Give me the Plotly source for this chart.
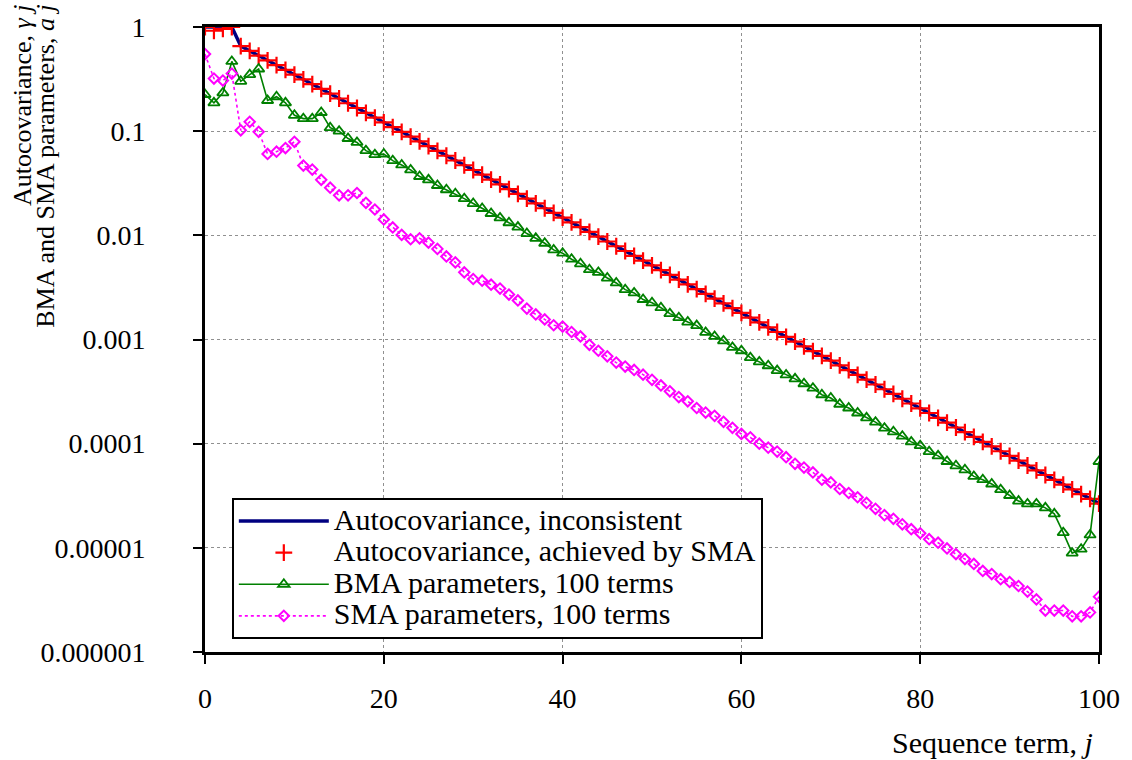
import plotly.graph_objects as go

j_terms = list(range(101))

autocov_inconsistent = [
    1.0, 1.0, 1.0, 1.0, 0.6561, 0.5905, 0.5314, 0.4783, 0.4305, 0.3874,
    0.3487, 0.3138, 0.2824, 0.2542, 0.2288, 0.2059, 0.1853, 0.1668, 0.1501, 0.1351,
    0.1216, 0.1094, 0.0985, 0.0886, 0.0798, 0.0718, 0.0646, 0.0581, 0.0523, 0.0471,
    0.0424, 0.0382, 0.0343, 0.0309, 0.0278, 0.0250, 0.0225, 0.0203, 0.0182, 0.0164,
    0.0148, 0.0133, 0.0120, 0.0108, 0.00970, 0.00873, 0.00786, 0.00707, 0.00636, 0.00573,
    0.00515, 0.00464, 0.00417, 0.00376, 0.00338, 0.00304, 0.00274, 0.00247, 0.00222, 0.00200,
    0.00180, 0.00162, 0.00146, 0.00131, 0.00118, 0.00106, 0.000955, 0.000860, 0.000774, 0.000696,
    0.000627, 0.000564, 0.000508, 0.000457, 0.000411, 0.000370, 0.000333, 0.000300, 0.000270, 0.000243,
    0.000218, 0.000197, 0.000177, 0.000159, 0.000143, 0.000129, 0.000116, 0.000104, 0.0000940, 0.0000846,
    0.0000762, 0.0000686, 0.0000617, 0.0000555, 0.0000500, 0.0000450, 0.0000405, 0.0000364, 0.0000328, 0.0000295,
    0.0000266,
]

autocov_achieved_head = [1.0, 0.92, 0.96, 1.0]
autocov_achieved = autocov_achieved_head + autocov_inconsistent[4:]

bma_params = [
    0.225, 0.187, 0.233, 0.467, 0.301, 0.349, 0.395, 0.197, 0.214, 0.187,
    0.142, 0.132, 0.132, 0.151, 0.108, 0.100, 0.085, 0.078, 0.065, 0.0595,
    0.0604, 0.0521, 0.0474, 0.0425, 0.0367, 0.0341, 0.0301, 0.0274, 0.0251, 0.0225,
    0.0202, 0.0181, 0.0162, 0.0147, 0.0132, 0.0120, 0.0104, 0.00936, 0.00839, 0.00725,
    0.00674, 0.0059, 0.00533, 0.00468, 0.00441, 0.00389, 0.00349, 0.00301, 0.0028, 0.00242,
    0.00225, 0.00202, 0.00177, 0.00162, 0.00147, 0.00136, 0.00117, 0.00107, 0.00097, 0.00084,
    0.00078, 0.00067, 0.00061, 0.00056, 0.000503, 0.000457, 0.000419, 0.000376, 0.000341, 0.000295,
    0.000274, 0.000239, 0.00022, 0.000197, 0.000177, 0.000161, 0.000141, 0.00013, 0.000118, 0.000104,
    0.0000957, 0.0000839, 0.0000764, 0.0000674, 0.0000613, 0.0000561, 0.0000485, 0.0000451, 0.000041, 0.0000362,
    0.0000318, 0.0000281, 0.0000264, 0.0000264, 0.0000242, 0.0000212, 0.000014, 0.0000089, 0.0000097, 0.0000133,
    0.0000674,
]

sma_params = [
    0.55, 0.32, 0.306, 0.357, 0.102, 0.123, 0.0985, 0.0604, 0.0636, 0.0689,
    0.079, 0.0467, 0.0428, 0.0341, 0.0287, 0.0242, 0.0242, 0.0255, 0.0205, 0.0177,
    0.0142, 0.0119, 0.0101, 0.00917, 0.00936, 0.00851, 0.00741, 0.00627, 0.0055, 0.00441,
    0.00381, 0.00367, 0.00336, 0.00308, 0.0027, 0.00237, 0.00198, 0.00174, 0.00156, 0.00137,
    0.00133, 0.00118, 0.00107, 0.00089, 0.00078, 0.00069, 0.0006, 0.00055, 0.00051, 0.00046,
    0.00041, 0.000362, 0.000318, 0.00028, 0.000255, 0.00022, 0.000199, 0.000185, 0.000162, 0.000142,
    0.000124, 0.000115, 0.0001, 0.0000916, 0.0000839, 0.0000741, 0.000064, 0.000059, 0.000053, 0.0000451,
    0.0000425, 0.0000367, 0.0000336, 0.0000306, 0.000027, 0.0000237, 0.0000206, 0.000019, 0.0000168, 0.0000151,
    0.0000138, 0.0000121, 0.0000112, 0.00000986, 0.0000087, 0.0000078, 0.000007, 0.000006, 0.0000056, 0.000005,
    0.0000047, 0.0000043, 0.0000038, 0.0000032, 0.0000025, 0.0000025, 0.0000025, 0.0000022, 0.0000022, 0.0000024,
    0.0000034,
]

x_ticks = [0, 20, 40, 60, 80, 100]
y_tickvals = [1, 0.1, 0.01, 0.001, 0.0001, 0.00001, 0.000001]
y_ticktext = ["1", "0.1", "0.01", "0.001", "0.0001", "0.00001", "0.000001"]

series_names = [
    "Autocovariance, inconsistent",
    "Autocovariance, achieved by SMA",
    "BMA parameters, 100 terms",
    "SMA parameters, 100 terms",
]

FONT = "Liberation Serif, Times New Roman, serif"
FS = 28
LEG_TXT = 30


def leg(name):
    return f'<span style="font-size:{LEG_TXT}px">{name}</span>'


fig = go.Figure()
fig.add_trace(go.Scatter(
    x=j_terms, y=autocov_inconsistent, mode="lines",
    name=leg(series_names[0]),
    line=dict(color="#000080", width=3.5),
))
fig.add_trace(go.Scatter(
    x=j_terms, y=autocov_achieved, mode="markers",
    name=leg(series_names[1]),
    marker=dict(symbol="cross-thin", size=12, color="#FF0000",
                line=dict(color="#FF0000", width=2.2)),
))
fig.add_trace(go.Scatter(
    x=j_terms, y=bma_params, mode="lines+markers",
    name=leg(series_names[2]),
    line=dict(color="#008000", width=1.6),
    marker=dict(symbol="triangle-up-open", size=10, color="#008000",
                line=dict(color="#008000", width=1.8)),
))
fig.add_trace(go.Scatter(
    x=j_terms, y=sma_params, mode="lines+markers",
    name=leg(series_names[3]),
    line=dict(color="#FF00FF", width=1.6, dash="dot"),
    marker=dict(symbol="diamond-open", size=8, color="#FF00FF",
                line=dict(color="#FF00FF", width=2)),
))

axis_common = dict(
    showline=True, linecolor="black", linewidth=3, mirror=True,
    ticks="outside", ticklen=9, tickwidth=2, tickcolor="black",
    showgrid=True, gridcolor="#909090", gridwidth=1, griddash="dot",
    zeroline=False,
    tickfont=dict(family=FONT, size=FS, color="black"),
)

fig.update_xaxes(range=[0, 100], tickvals=x_ticks, ticklabelstandoff=10, **axis_common)
fig.update_yaxes(type="log", range=[-6, 0], tickvals=y_tickvals,
                 ticktext=[t + "\u00a0\u00a0" for t in y_ticktext],
                 ticklabelstandoff=28, **axis_common)

fig.update_layout(
    width=1132, height=760,
    margin=dict(l=205, r=28, t=22, b=108),
    paper_bgcolor="white", plot_bgcolor="white",
    font=dict(family=FONT, size=FS, color="black"),
    showlegend=True,
    legend=dict(
        x=0.030, y=0.246, xanchor="left", yanchor="top",
        bgcolor="white", bordercolor="black", borderwidth=2,
        font=dict(family=FONT, size=22, color="black"),
        tracegroupgap=0, itemwidth=90,
    ),
    annotations=[
        dict(text="Autocovariance, <i>γ j</i>", xref="paper", yref="paper",
             x=-0.2036, y=1.04, xanchor="center", yanchor="top", textangle=-90,
             showarrow=False, font=dict(family=FONT, size=26, color="black")),
        dict(text="BMA and SMA parameters, <i>a j</i>", xref="paper", yref="paper",
             x=-0.178, y=1.04, xanchor="center", yanchor="top", textangle=-90,
             showarrow=False, font=dict(family=FONT, size=26, color="black")),
        dict(text="Sequence term, <i>j</i>", xref="paper", yref="paper",
             x=0.9956, y=-0.1444, xanchor="right", yanchor="middle",
             showarrow=False, font=dict(family=FONT, size=30, color="black")),
    ],
)

fig.write_html("out.html")
